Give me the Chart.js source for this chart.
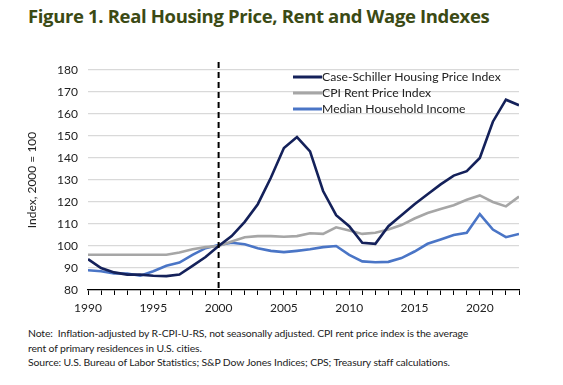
<!DOCTYPE html>
<html>
<head>
<meta charset="utf-8">
<script src="https://cdn.jsdelivr.net/npm/chart.js@4"></script>
<style>
  body { margin: 0; background: #fff; width: 563px; height: 385px; overflow: hidden; font-family: Lato, sans-serif; }
  #title { position: absolute; left: 28px; top: 3px; white-space: nowrap; color: #3b4a14;
           font-family: "Open Sans", sans-serif; font-weight: 700; font-size: 18.5px; letter-spacing: -0.35px; }
  #wrap { position: absolute; left: 0; top: 50px; width: 563px; height: 262px; }
  #notes { position: absolute; left: 28px; top: 326px; font-size: 10.4px; letter-spacing: -0.12px; line-height: 14.5px; color: #222; white-space: nowrap; }
</style>
</head>
<body>
<div id="title">Figure 1. Real Housing Price, Rent and Wage Indexes</div>
<div id="wrap"><canvas id="c"></canvas></div>
<div id="notes">Note:&nbsp; Inflation-adjusted by R-CPI-U-RS, not seasonally adjusted. CPI rent price index is the average<br>rent of primary residences in U.S. cities.<br>Source: U.S. Bureau of Labor Statistics; S&amp;P Dow Jones Indices; CPS; Treasury staff calculations.</div>
<script>
var years = [];
for (var y = 1990; y <= 2023; y++) years.push(y);

var caseShiller = [94, 90, 88, 87, 87, 86.5, 86.3, 87, 91, 95, 100, 104.5, 111, 119, 131, 144.5, 149.5, 143, 125, 114,
                   109, 101.5, 101, 109, 114, 119, 123.5, 128, 132, 134, 140, 156.5, 166.5, 164];
var cpiRent = [96, 96, 96, 96, 96, 96, 96, 97, 98.5, 99.5, 100, 102, 104, 104.5, 104.5, 104.2, 104.5, 105.8, 105.5, 108.5,
               107, 105.5, 106, 107.5, 109.5, 112.5, 115, 116.8, 118.5, 121, 123, 120, 118, 122.5];
var income = [89, 88.5, 87.5, 87.5, 86.5, 88.5, 91, 92.5, 96, 99, 100.5, 101.5, 100.8, 99, 97.8, 97.2, 97.8, 98.5, 99.5, 100,
              96, 93, 92.6, 92.8, 94.5, 97.5, 101, 103, 105, 106, 114.5, 107.5, 104, 105.5];
var labels = ['Case-Schiller Housing Price Index', 'CPI Rent Price Index', 'Median Household Income'];
var colors = ['#14215a', '#a6a6a6', '#4a75c6'];

function pts(arr) {
    return arr.map(function (v, i) { return { x: years[i], y: v }; });
}

var markerPlugin = {
    id: 'marker',
    afterDatasetsDraw: function (chart) {
        var ctx = chart.ctx, a = chart.chartArea;
        var x = chart.scales.x.getPixelForValue(2000);
        ctx.save();
        ctx.strokeStyle = '#000';
        ctx.lineWidth = 2;
        ctx.setLineDash([6, 4]);
        ctx.beginPath();
        ctx.moveTo(x, a.top - 8);
        ctx.lineTo(x, a.bottom);
        ctx.stroke();
        ctx.restore();

        // legend
        ctx.save();
        ctx.font = '12.2px Lato';
        ctx.fillStyle = '#222';
        ctx.textBaseline = 'middle';
        chart.data.datasets.forEach(function (ds, i) {
            var ly = a.top + 7 + i * 16;
            ctx.strokeStyle = ds.borderColor;
            ctx.lineWidth = 3;
            ctx.beginPath();
            ctx.moveTo(a.left + 205, ly);
            ctx.lineTo(a.left + 234, ly);
            ctx.stroke();
            ctx.fillText(ds.label, a.left + 234, ly);
        });
        ctx.restore();
    }
};

new Chart(document.getElementById('c'), {
    type: 'line',
    data: {
        datasets: [
            { label: labels[0], data: pts(caseShiller), borderColor: colors[0] },
            { label: labels[1], data: pts(cpiRent), borderColor: colors[1] },
            { label: labels[2], data: pts(income), borderColor: colors[2] }
        ]
    },
    options: {
        responsive: true,
        maintainAspectRatio: false,
        animation: false,
        layout: { padding: { top: 20, right: 44, left: 0, bottom: 0 } },
        elements: {
            line: { borderWidth: 2.6, tension: 0, fill: false },
            point: { radius: 0 }
        },
        plugins: { legend: { display: false }, tooltip: { enabled: false } },
        scales: {
            x: {
                type: 'linear',
                min: 1990,
                max: 2023,
                afterFit: function (s) { s.height = 22; },
                ticks: {
                    stepSize: 1,
                    autoSkip: false,
                    maxRotation: 0,
                    color: '#222',
                    font: { family: 'Lato', size: 12 },
                    padding: 6,
                    callback: function (v) { return v % 5 === 0 ? String(v) : ''; }
                },
                grid: { drawOnChartArea: false, color: '#000', tickLength: 5, tickColor: '#000' },
                border: { color: '#000', width: 1.3 }
            },
            y: {
                min: 80,
                max: 180,
                afterFit: function (s) { s.width = 88; },
                title: { display: true, text: 'Index, 2000 = 100', color: '#222', font: { family: 'Lato', size: 12 }, padding: { top: 25, bottom: 4 } },
                ticks: { stepSize: 10, color: '#222', font: { family: 'Lato', size: 12 }, padding: 10 },
                grid: { color: '#d9d9d9', lineWidth: 1.2, drawTicks: false },
                border: { display: false }
            }
        }
    },
    plugins: [markerPlugin]
});
</script>
</body>
</html>
